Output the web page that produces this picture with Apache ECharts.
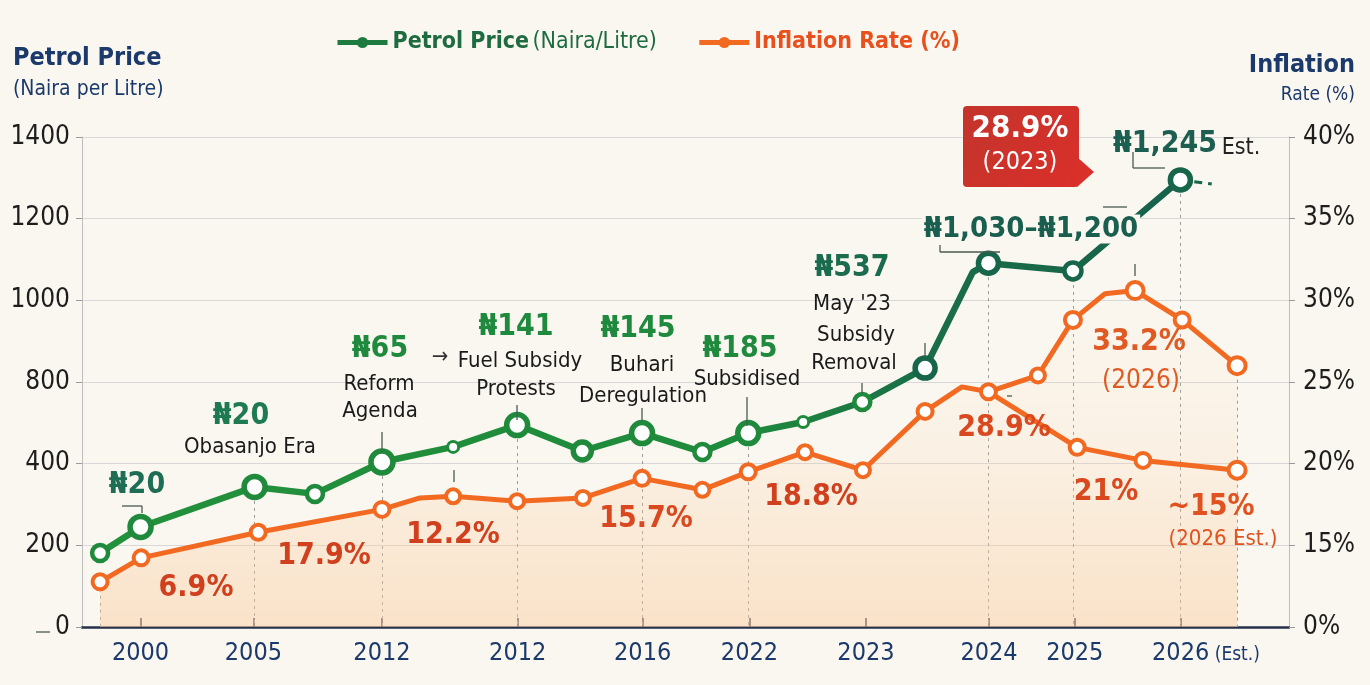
<!DOCTYPE html>
<html>
<head>
<meta charset="utf-8">
<script src="https://cdn.jsdelivr.net/npm/echarts@6/dist/echarts.min.js"></script>
<style>html,body{margin:0;padding:0;background:#FAF7F0;}#c{width:1370px;height:685px;}</style>
</head>
<body>
<div id="c"></div>
<script>
// ---------- data ----------
const xTickPos = [4.85, 14.2, 24.85, 36.1, 46.45, 55.3, 64.95, 75.15, 82.25, 91.05];
const xTickLabels = ['2000', '2005', '2012', '2012', '2016', '2022', '2023', '2024', '2025', '2026'];
const priceTicks = [0, 200, 400, 800, 1000, 1200, 1400];
const rateTicks = [0, 15, 20, 25, 30, 35, 40];

const petrolX = [1.5, 4.85, 14.3, 19.3, 24.85, 30.75, 36.05, 41.45, 46.4, 51.4, 55.2, 59.75, 64.65, 69.85, 73.8, 75.1, 82.1, 91.0];
const petrolPrice = [181, 245, 343, 326, 408, 482, 589, 462, 550, 457, 550, 604, 702, 834, 1069, 1091, 1072, 1295];
const petrolMarker = [16, 21, 21, 16, 22, 11, 21, 18, 21, 16, 21, 11, 16, 20, 0, 20, 17, 20];
const petrolTailX = [91.0, 93.6];
const petrolTail = [1295, 1285];

const inflationX = [1.5, 4.9, 14.6, 24.85, 28.0, 30.75, 36.05, 41.5, 46.4, 51.4, 55.2, 59.9, 64.7, 69.85, 72.9, 75.1, 79.2, 82.1, 84.75, 87.25, 91.15, 95.7];
const inflationRate = [8.3, 12.7, 15.8, 17.2, 17.9, 18.0, 17.7, 17.9, 19.1, 18.4, 19.5, 20.7, 19.6, 23.2, 24.7, 24.4, 25.4, 28.8, 30.4, 30.6, 28.8, 26.0];
const inflationMarker = [15, 15, 15, 15, 0, 14, 14, 14, 15, 14, 15, 14, 14, 15, 0, 15, 14, 16, 0, 17, 15, 17];
const inflationAltX = [75.1, 82.45, 87.9, 95.7];
const inflationAlt = [24.4, 21.0, 20.2, 19.6];
const inflationAltMarker = [0, 15, 15, 17];

const petrolDrops = [2, 4, 6, 8, 10, 15, 16, 17];
const inflationDrops = [0, 21];

// ---------- helpers ----------
const FONT = "'Liberation Sans Narrow','DejaVu Sans Condensed','Liberation Sans',sans-serif";
const BG = '#FAF7F0';
const GREEN = '#1F8A3C', TEAL = '#17654A', ORG = '#F26A22', RED = '#D0401E', NAVY = '#1B3A6B';
const P_NAME = 'Petrol Price (Naira/Litre)', I_NAME = 'Inflation Rate (%)';

function toIdx(v, ticks) {
  for (let i = 0; i < ticks.length - 1; i++) {
    if (v <= ticks[i + 1]) return i + (v - ticks[i]) / (ticks[i + 1] - ticks[i]);
  }
  return ticks.length - 1;
}

const petrolData = petrolX.map((x, i) => {
  const c = x > 66 ? TEAL : GREEN;
  const s = petrolMarker[i];
  return {
    value: [x, toIdx(petrolPrice[i], priceTicks)],
    symbol: s ? 'circle' : 'none',
    symbolSize: s,
    itemStyle: { color: '#fff', borderColor: c, borderWidth: s >= 18 ? 5.5 : (s >= 14 ? 4.5 : 3) }
  };
});
const inflData = (xs, ys, ms) => xs.map((x, i) => ({
  value: [x, toIdx(ys[i], rateTicks)],
  symbol: ms[i] ? 'circle' : 'none',
  symbolSize: ms[i],
  itemStyle: { color: '#fff', borderColor: ORG, borderWidth: 4 }
}));

const dropLines = [];
petrolDrops.forEach(i => dropLines.push([{ coord: [petrolX[i], toIdx(petrolPrice[i], priceTicks)] }, { coord: [petrolX[i], 0] }]));
inflationDrops.forEach(i => dropLines.push([{ coord: [inflationX[i], toIdx(inflationRate[i], rateTicks)] }, { coord: [inflationX[i], 0] }]));

// annotation texts: [text, x, y, size, color, weight]
const notes = [
  ['₦20', 137, 485, 30, '#1E6E55', 'bold'],
  ['₦20', 241, 416, 30, '#1E7A50', 'bold'],
  ['Obasanjo Era', 250, 447, 22, '#1a1a1a', 'normal'],
  ['₦65', 380, 349, 30, '#1F8A3E', 'bold'],
  ['→', 440, 357, 22, '#333', 'normal'],
  ['Reform', 379, 384, 22, '#1a1a1a', 'normal'],
  ['Agenda', 380, 411, 22, '#1a1a1a', 'normal'],
  ['₦141', 516, 327, 30, '#1F8A3E', 'bold'],
  ['Fuel Subsidy', 520, 361, 22, '#1a1a1a', 'normal'],
  ['Protests', 516, 389, 22, '#1a1a1a', 'normal'],
  ['₦145', 638, 329, 30, '#1F8A3E', 'bold'],
  ['Buhari', 642, 365, 22, '#1a1a1a', 'normal'],
  ['Deregulation', 643, 396, 22, '#1a1a1a', 'normal'],
  ['₦185', 740, 349, 30, '#1F8A3E', 'bold'],
  ['Subsidised', 747, 379, 22, '#1a1a1a', 'normal'],
  ['₦537', 852, 268, 30, '#1B6B4E', 'bold'],
  ["May '23", 852, 304, 22, '#1a1a1a', 'normal'],
  ['Subsidy', 856, 335, 22, '#1a1a1a', 'normal'],
  ['Removal', 854, 363, 22, '#1a1a1a', 'normal'],
  ['₦1,245', 1165, 144, 30, '#1C5F50', 'bold'],
  ['Est.', 1241, 148, 23, '#222', 'normal'],
  ['6.9%', 196, 588, 30, RED, 'bold'],
  ['17.9%', 324, 556, 30, RED, 'bold'],
  ['12.2%', 453, 535, 30, RED, 'bold'],
  ['15.7%', 646, 519, 30, '#D9481F', 'bold'],
  ['18.8%', 811, 497, 30, RED, 'bold'],
  ['28.9%', 1004, 428, 30, '#D9481F', 'bold'],
  ['21%', 1106, 492, 30, '#D9481F', 'bold'],
  ['~15%', 1211, 507, 30, '#E0521F', 'bold'],
  ['(2026 Est.)', 1223, 539, 22, '#E0521F', 'normal'],
  ['33.2%', 1139, 342, 30, '#E05A24', 'bold'],
  ['(2026)', 1141, 381, 26, '#E05A24', 'normal']
];

// short leader strokes next to labels: [x1, y1, x2, y2]
const leaders = [
  [122, 506, 142, 506], [142, 506, 142, 513],
  [382, 432, 382, 452], [454, 470, 454, 482], [517, 405, 517, 420],
  [642, 408, 642, 421], [747, 397, 747, 426], [862, 383, 862, 394],
  [925, 343, 925, 357], [940, 245, 940, 252], [940, 252, 1000, 252],
  [1133, 152, 1133, 168], [1133, 168, 1165, 168], [1103, 207, 1127, 207],
  [1135, 264, 1135, 276], [1007, 396, 1012, 396], [36, 632, 50, 632]
];

const graphics = notes.map(n => ({
  type: 'text', z: 100, silent: true,
  style: { text: n[0], x: n[1], y: n[2], align: 'center', verticalAlign: 'middle',
    fontSize: n[3], fill: n[4], fontWeight: n[5], fontFamily: FONT }
}));
leaders.forEach(l => graphics.push({
  type: 'line', z: 50, silent: true,
  shape: { x1: l[0], y1: l[1], x2: l[2], y2: l[3] },
  style: { stroke: '#4a5a52', lineWidth: 1.3 }
}));
graphics.push({
  type: 'text', z: 100, silent: true,
  style: { text: '₦1,030–₦1,200', x: 1031, y: 229, align: 'center', verticalAlign: 'middle',
    fontSize: 29, fill: '#1A5E4F', fontWeight: 'bold', fontFamily: FONT,
    backgroundColor: BG, padding: [0, 2] }
});
// axis titles
graphics.push(
  { type: 'text', z: 100, style: { text: 'Petrol Price', x: 13, y: 58, align: 'left', verticalAlign: 'middle', fontSize: 25, fontWeight: 'bold', fill: NAVY, fontFamily: FONT } },
  { type: 'text', z: 100, style: { text: '(Naira per Litre)', x: 13, y: 90, align: 'left', verticalAlign: 'middle', fontSize: 21, fill: NAVY, fontFamily: FONT } },
  { type: 'text', z: 100, style: { text: 'Inflation', x: 1355, y: 65, align: 'right', verticalAlign: 'middle', fontSize: 25, fontWeight: 'bold', fill: NAVY, fontFamily: FONT } },
  { type: 'text', z: 100, style: { text: 'Rate (%)', x: 1355, y: 95, align: 'right', verticalAlign: 'middle', fontSize: 19, fill: NAVY, fontFamily: FONT } }
);
// red callout
const calloutFill = new echarts.graphic.LinearGradient(0, 0, 1, 1, [
  { offset: 0, color: '#C2352B' }, { offset: 1, color: '#DA2F2A' }]);
graphics.push(
  { type: 'rect', z: 99, shape: { x: 963, y: 106, width: 116, height: 81, r: 4 }, style: { fill: calloutFill } },
  { type: 'polygon', z: 99, shape: { points: [[1077, 157], [1094, 172], [1077, 187]] }, style: { fill: '#D9302A' } },
  { type: 'text', z: 101, style: { text: '28.9%', x: 1020, y: 129, align: 'center', verticalAlign: 'middle', fontSize: 31, fontWeight: 'bold', fill: '#fff', fontFamily: FONT } },
  { type: 'text', z: 101, style: { text: '(2023)', x: 1020, y: 162, align: 'center', verticalAlign: 'middle', fontSize: 25, fill: '#fff', fontFamily: FONT } }
);

const chart = echarts.init(document.getElementById('c'), null, { renderer: 'canvas' });
chart.setOption({
  backgroundColor: BG,
  animation: false,
  textStyle: { fontFamily: FONT },
  grid: { left: 82, right: 81, top: 137, bottom: 58 },
  legend: {
    top: 26, left: 330, itemGap: 40, itemWidth: 50, itemHeight: 14,
    data: [
      { name: P_NAME, itemStyle: { color: '#1E7B3F', borderColor: '#1E7B3F', borderWidth: 0 }, lineStyle: { color: '#1E7B3F', width: 5 } },
      { name: I_NAME, itemStyle: { color: ORG, borderColor: ORG, borderWidth: 0 }, lineStyle: { color: ORG, width: 5 } }
    ],
    formatter: name => name === P_NAME ? '{pb|Petrol Price} {pn|(Naira/Litre)}' : '{ob|Inflation Rate (%)}',
    textStyle: {
      fontFamily: FONT,
      rich: {
        pb: { fontSize: 23, fontWeight: 'bold', color: '#1E6B40', fontFamily: FONT },
        pn: { fontSize: 23, color: '#1E6B40', fontFamily: FONT },
        ob: { fontSize: 23, fontWeight: 'bold', color: '#E8501E', fontFamily: FONT }
      }
    }
  },
  xAxis: {
    type: 'value', min: 0, max: 100,
    axisLine: { lineStyle: { color: '#26304A', width: 2.5 } },
    axisTick: { show: true, inside: true, length: 9, customValues: xTickPos, lineStyle: { color: '#26304A', width: 1.5 } },
    axisLabel: {
      customValues: xTickPos, margin: 14, fontSize: 25, color: NAVY, fontFamily: FONT,
      formatter: v => {
        const i = xTickPos.indexOf(v);
        const l = i >= 0 ? xTickLabels[i] : '';
        return i === xTickPos.length - 1 ? '{pad|}' + l + '{s| (Est.)}' : l;
      },
      rich: {
        pad: { width: 50 },
        s: { fontSize: 19, color: NAVY, fontFamily: FONT, padding: [4, 0, 0, 0] }
      }
    },
    splitLine: { show: false }
  },
  yAxis: [
    {
      type: 'value', min: 0, max: 6, interval: 1, position: 'left',
      axisLabel: { formatter: v => String(priceTicks[Math.round(v)]), fontSize: 26, color: '#1d1d1d', margin: 12, fontFamily: FONT },
      axisLine: { show: true, lineStyle: { color: '#BDBDBD' } },
      axisTick: { show: true, length: 6, lineStyle: { color: '#999' } },
      splitLine: { lineStyle: { color: '#D8D8D8' } }
    },
    {
      type: 'value', min: 0, max: 6, interval: 1, position: 'right',
      axisLabel: { formatter: v => rateTicks[Math.round(v)] + '%', fontSize: 26, color: '#1d1d1d', margin: 14, fontFamily: FONT },
      axisLine: { show: true, lineStyle: { color: '#BDBDBD' } },
      axisTick: { show: true, length: 6, lineStyle: { color: '#999' } },
      splitLine: { show: false }
    }
  ],
  graphic: graphics,
  series: [
    {
      name: 'drops', type: 'line', data: [], z: 1, silent: true,
      markLine: { silent: true, symbol: 'none', label: { show: false }, z: 1,
        lineStyle: { color: '#9A9A9A', type: [3, 4], width: 1 }, data: dropLines }
    },
    {
      name: I_NAME, type: 'line', yAxisIndex: 1, z: 3, symbol: 'circle',
      data: inflData(inflationX, inflationRate, inflationMarker),
      lineStyle: { color: ORG, width: 5 },
      itemStyle: { color: ORG },
      areaStyle: {
        color: new echarts.graphic.LinearGradient(0, 0, 0, 1, [
          { offset: 0, color: 'rgba(250,200,150,0)' },
          { offset: 0.45, color: 'rgba(250,205,160,0.2)' },
          { offset: 1, color: 'rgba(250,205,160,0.7)' }])
      }
    },
    {
      name: 'inflAlt', type: 'line', yAxisIndex: 1, z: 3, symbol: 'circle',
      data: inflData(inflationAltX, inflationAlt, inflationAltMarker),
      lineStyle: { color: ORG, width: 5 }
    },
    {
      name: P_NAME, type: 'line', yAxisIndex: 0, z: 4, symbol: 'circle',
      data: petrolData,
      lineStyle: {
        width: 6.5,
        color: new echarts.graphic.LinearGradient(0, 0, 1, 0, [
          { offset: 0, color: '#23913B' }, { offset: 0.6, color: '#1E8A3C' },
          { offset: 0.75, color: '#1A6F47' }, { offset: 1, color: '#17614B' }])
      },
      itemStyle: { color: GREEN }
    },
    {
      name: 'tail', type: 'line', yAxisIndex: 0, z: 4, symbol: 'none',
      data: petrolTailX.map((x, i) => [x, toIdx(petrolTail[i], priceTicks)]),
      lineStyle: { color: TEAL, width: 3, type: [8, 6] }
    }
  ]
});
</script>
</body>
</html>
